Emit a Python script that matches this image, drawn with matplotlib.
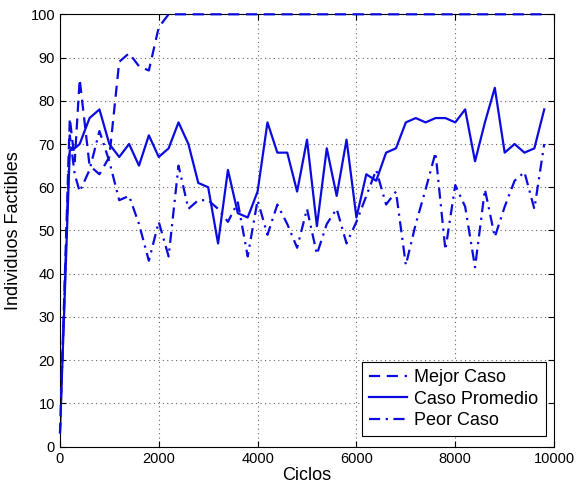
import numpy as np
import matplotlib
matplotlib.use('Agg')
import matplotlib.pyplot as plt

plt.rcParams['font.family'] = ['Liberation Sans', 'DejaVu Sans']

# datos
ciclos = [0, 200, 300, 400, 600, 800, 1000, 1200, 1400, 1600, 1800, 2000,
          2200, 2400, 2600, 2800, 3000, 3200, 3400, 3600, 3800, 4000,
          4200, 4400, 4600, 4800, 5000, 5200, 5400, 5600, 5800, 6000,
          6200, 6400, 6600, 6800, 7000, 7200, 7400, 7600, 7800, 8000,
          8200, 8400, 8600, 8800, 9000, 9200, 9400, 9600, 9800]

mejor_caso = [3, 76, 66, 85, 65, 63, 67, 89, 91, 88, 87, 97,
              100, 100, 100, 100, 100, 100, 100, 100, 100, 100,
              100, 100, 100, 100, 100, 100, 100, 100, 100, 100,
              100, 100, 100, 100, 100, 100, 100, 100, 100, 100,
              100, 100, 100, 100, 100, 100, 100, 100, 100]

caso_promedio = [3, 68.5, 69, 70, 76, 78, 70, 67, 70, 65, 72, 67,
                 69, 75, 70, 61, 60, 47, 64, 54, 53, 59,
                 75, 68, 68, 59, 71, 51, 69, 58, 71, 53,
                 63, 61.5, 68, 69, 75, 76, 75, 76, 76, 75,
                 78, 66, 75, 83, 68, 70, 68, 69, 78]

peor_caso = [3, 72, 63, 59, 64, 73, 66, 57, 58, 51.5, 43, 52,
             44, 65, 55, 57, 57, 55, 52, 56.5, 44, 57,
             49, 56, 51.5, 46, 55, 44.5, 51.5, 55, 47, 52,
             58, 64, 56, 59, 42, 51.5, 59.5, 68, 45.5, 60.5,
             55.5, 41.5, 59.5, 48.5, 55.5, 61.5, 63.5, 55, 70]

fig = plt.figure(figsize=(5.76, 4.93), dpi=100)
ax = fig.add_axes([0.104, 0.094, 0.858, 0.877])

color = '#0b0bdf'
ax.plot(ciclos, mejor_caso, '--', color=color, lw=1.6, dashes=(5, 3), label='Mejor Caso',
        clip_on=False, zorder=5)
ax.plot(ciclos, caso_promedio, '-', color=color, lw=1.6, label='Caso Promedio')
ax.plot(ciclos, peor_caso, '-.', color=color, lw=1.6, dashes=(5, 2.5, 1, 2.5), label='Peor Caso')

# ejes estilo matlab
ax.set_xlim(0, 10000)
ax.set_ylim(0, 100)
ax.set_xticks(np.arange(0, 10001, 2000))
ax.set_yticks(np.arange(0, 101, 10))
ax.tick_params(direction='in', labelsize=10.5, length=4, top=True, right=True)
ax.grid(True, linestyle=(0, (1, 3)), color='#666666', linewidth=0.8)
for s in ax.spines.values():
    s.set_linewidth(0.8)

ax.set_xlabel('Ciclos', fontsize=13, labelpad=1)
ax.set_ylabel('Individuos Factibles', fontsize=13, labelpad=6)

leg = ax.legend(loc='lower right', bbox_to_anchor=(0.983, 0.024), borderaxespad=0,
                fontsize=13, fancybox=False, edgecolor='black', framealpha=1,
                handlelength=2.1, labelspacing=0.25, borderpad=0.4, handletextpad=0.4)
leg.get_frame().set_linewidth(0.8)
leg.set_zorder(10)

plt.savefig('out.png', dpi=100)
